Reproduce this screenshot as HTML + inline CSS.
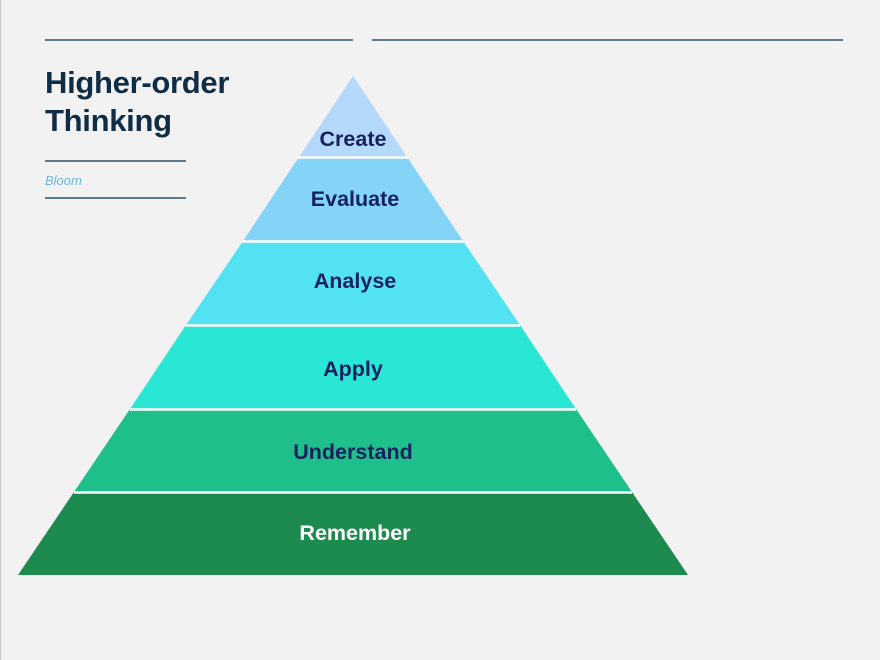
<!DOCTYPE html>
<html><head><style>
html,body{margin:0;padding:0;}
body{width:880px;height:660px;background:#f2f2f2;position:relative;overflow:hidden;font-family:"Liberation Sans",sans-serif;}
.l{position:absolute;height:2px;background:#5d7b8c;}
</style></head><body>
<div style="position:absolute;left:0;top:0;width:1px;height:660px;background:#c8c8c8"></div>
<div class="l" style="left:45px;top:39px;width:308px"></div>
<div class="l" style="left:372px;top:39px;width:471px"></div>
<div style="position:absolute;left:45px;top:64px;font-size:31px;font-weight:bold;color:#0f2d44;line-height:38px;letter-spacing:-0.3px">Higher-order<br>Thinking</div>
<div class="l" style="left:45px;top:160px;width:141px"></div>
<div style="position:absolute;left:45px;top:173px;font-size:13px;font-style:italic;color:#6fb6d8">Bloom</div>
<div class="l" style="left:45px;top:197px;width:141px"></div>
<svg width="880" height="660" style="position:absolute;left:0;top:0" font-family="Liberation Sans, sans-serif" font-weight="bold" font-size="21.5" text-anchor="middle">
<polygon points="353,76 299,157 407,157" fill="#b5d9fb"/>
<polygon points="299,157 407,157 463,241 243,241" fill="#84d4f8"/>
<polygon points="243,241 463,241 520,325 186,325" fill="#52e2f2"/>
<polygon points="186,325 520,325 576,409 130,409" fill="#2ae6d4"/>
<polygon points="130,409 576,409 632,492 74,492" fill="#1ebf8b"/>
<polygon points="74,492 632,492 688,575 18,575" fill="#1d8a4f"/>
<g stroke="#ffffff" stroke-width="2.5">
<line x1="298" y1="157.5" x2="408" y2="157.5"/>
<line x1="242" y1="241.5" x2="464" y2="241.5"/>
<line x1="186" y1="325.5" x2="520" y2="325.5"/>
<line x1="130" y1="409.5" x2="576" y2="409.5"/>
<line x1="74" y1="492.5" x2="632" y2="492.5"/>
</g>
<g fill="#17215e">
<text x="353" y="146">Create</text>
<text x="355" y="206">Evaluate</text>
<text x="355" y="288">Analyse</text>
<text x="353" y="376">Apply</text>
<text x="353" y="459">Understand</text>
</g>
<text x="355" y="540" fill="#ffffff">Remember</text>
</svg>
</body></html>
